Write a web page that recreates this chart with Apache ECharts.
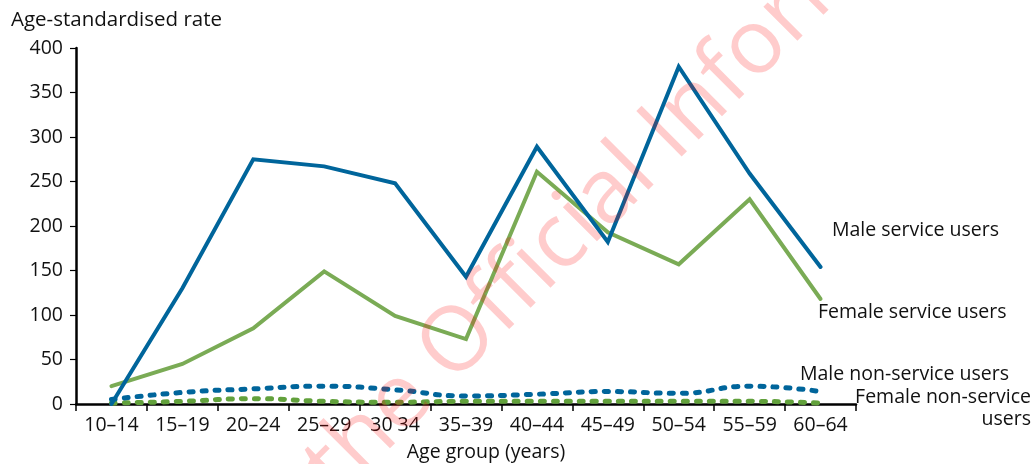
<!DOCTYPE html>
<html>
<head>
<meta charset="utf-8">
<script src="https://cdn.jsdelivr.net/npm/echarts@6/dist/echarts.min.js"></script>
<style>
html,body{margin:0;padding:0;background:#fff;}
#chart{width:1034px;height:464px;}
</style>
</head>
<body>
<div id="chart"></div>
<script>
var categories = ['10–14','15–19','20–24','25–29','30 34','35–39','40–44','45–49','50–54','55–59','60–64'];
var maleService = [0,130,275,267,248,143,289,182,379,259,154];
var femaleService = [20,45,85,149,99,73,261,193,157,230,118];
var maleNonService = [5,13,17,20,16,9,11,14,12,20,14];
var femaleNonService = [1,3,6,3,2,3,3,3,3,3,1];
var yTicks = [0,50,100,150,200,250,300,350,400];

var FONT = 'Open Sans';
var BLUE = '#00659B';
var GREEN = '#7AAB55';
var GREEN_D = '#62A13C';
var FS = 19.5;

var chart = echarts.init(document.getElementById('chart'), null, {renderer:'canvas'});
function lab(t, x, y, align) {
  return {type: 'text', x: x, y: y, style: {text: t, font: FS + 'px "Open Sans"', fill: '#111', textAlign: align || 'left', textVerticalAlign: 'middle'}};
}
var WM = 'rgba(255,0,0,0.2)';
var wmx = 455 - 29*0.7071, wmy = 388 - 29*0.7071;

chart.setOption({
  animation: false,
  grid: {left: 76, right: 178, top: 48, bottom: 60, containLabel: false, outerBoundsMode: 'none'},
  xAxis: {
    type: 'category',
    data: categories,
    boundaryGap: true,
    name: 'Age group (years)',
    nameLocation: 'middle',
    nameGap: 38,
    nameTextStyle: {fontFamily: FONT, fontSize: FS, color: '#111', padding: [0,0,0,40]},
    axisLine: {lineStyle: {color: '#000', width: 2.5}},
    axisTick: {show: true, length: 7, lineStyle: {color: '#000', width: 1.5}},
    axisLabel: {fontFamily: FONT, fontSize: FS, color: '#111', margin: 11, interval: 0},
    splitLine: {show: false}
  },
  yAxis: {
    type: 'value',
    min: yTicks[0],
    max: yTicks[yTicks.length-1],
    interval: yTicks[1]-yTicks[0],
    axisLine: {show: true, lineStyle: {color: '#000', width: 2.5}},
    axisTick: {show: true, length: 6, lineStyle: {color: '#000', width: 1.2}},
    axisLabel: {fontFamily: FONT, fontSize: FS, color: '#111', margin: 13},
    splitLine: {show: false}
  },
  series: [
    {name: 'Female non-service users', type: 'line', data: femaleNonService, smooth: true, symbol: 'none',
     lineStyle: {color: GREEN_D, width: 5, type: [4,9], cap: 'round'}},
    {name: 'Male non-service users', type: 'line', data: maleNonService, smooth: true, symbol: 'none',
     lineStyle: {color: BLUE, width: 5, type: [4,9], cap: 'round'}},
    {name: 'Female service users', type: 'line', data: femaleService, symbol: 'none',
     lineStyle: {color: GREEN, width: 4, cap: 'round', join: 'miter'}},
    {name: 'Male service users', type: 'line', data: maleService, symbol: 'none',
     lineStyle: {color: BLUE, width: 4, cap: 'round', join: 'miter'}}
  ],
  graphic: [
    {type: 'text', x: 11, y: 20, style: {text: 'Age-standardised rate', font: '20.5px "Open Sans"', fill: '#111', textVerticalAlign: 'middle'}},
    lab('Male service users', 832, 230),
    lab('Female service users', 818, 312),
    lab('Male non-service users', 800, 374),
    lab('Female non-service', 1031, 397, 'right'),
    lab('users', 1031, 419, 'right'),
    {type: 'text', x: wmx, y: wmy, rotation: Math.PI/4, z: 100, silent: true,
     style: {text: 'Released under the ', font: '90px "Open Sans"', fill: WM, textAlign: 'right', textVerticalAlign: 'middle'}},
    {type: 'text', x: wmx, y: wmy, rotation: Math.PI/4, z: 100, silent: true,
     style: {text: 'Official Information Act 1982', font: '90px "Open Sans"', fill: WM, textAlign: 'left', textVerticalAlign: 'middle'}}
  ]
});
</script>
</body>
</html>
